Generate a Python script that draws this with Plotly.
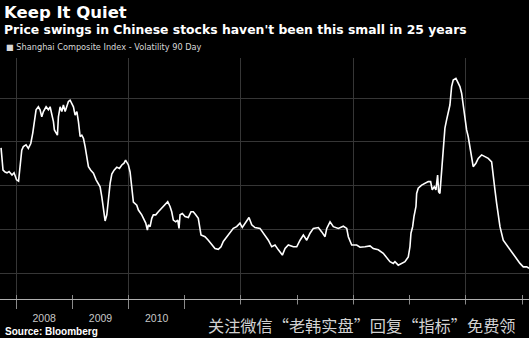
import pandas as pd
import plotly.graph_objects as go

# Shanghai Composite Index, 90-day volatility (annualised, %), sampled as decimal years
t_years = [
    2007.734, 2007.769, 2007.805, 2007.840, 2007.876, 2007.929, 2007.965, 2008.009, 2008.045, 2008.072,
    2008.102, 2008.130, 2008.178, 2008.219, 2008.262, 2008.297, 2008.326, 2008.356, 2008.397, 2008.427,
    2008.457, 2008.486, 2008.534, 2008.575, 2008.605, 2008.635, 2008.664, 2008.681, 2008.712, 2008.735,
    2008.752, 2008.783, 2008.813, 2008.841, 2008.872, 2008.902, 2008.930, 2008.960, 2008.991, 2009.019,
    2009.049, 2009.080, 2009.108, 2009.138, 2009.168, 2009.197, 2009.227, 2009.257, 2009.286, 2009.328,
    2009.375, 2009.423, 2009.464, 2009.494, 2009.524, 2009.552, 2009.583, 2009.613, 2009.641, 2009.672,
    2009.702, 2009.743, 2009.791, 2009.837, 2009.880, 2009.920, 2009.947, 2009.997, 2010.027, 2010.057,
    2010.086, 2010.146, 2010.175, 2010.235, 2010.264, 2010.306, 2010.335, 2010.352, 2010.383, 2010.413,
    2010.441, 2010.484, 2010.530, 2010.591, 2010.649, 2010.697, 2010.738, 2010.768, 2010.797, 2010.839,
    2010.875, 2010.898, 2010.916, 2010.957, 2011.005, 2011.064, 2011.112, 2011.152, 2011.195, 2011.241,
    2011.289, 2011.360, 2011.419, 2011.480, 2011.538, 2011.597, 2011.645, 2011.686, 2011.746, 2011.805,
    2011.864, 2011.924, 2011.983, 2012.024, 2012.072, 2012.143, 2012.191, 2012.249, 2012.338, 2012.427,
    2012.486, 2012.546, 2012.605, 2012.664, 2012.735, 2012.783, 2012.841, 2012.930, 2012.990, 2013.049,
    2013.108, 2013.168, 2013.227, 2013.286, 2013.375, 2013.435, 2013.494, 2013.524, 2013.583, 2013.641,
    2013.730, 2013.819, 2013.880, 2013.908, 2013.968, 2014.057, 2014.116, 2014.205, 2014.294, 2014.352,
    2014.441, 2014.530, 2014.591, 2014.649, 2014.708, 2014.738, 2014.797, 2014.857, 2014.916, 2014.975,
    2015.005, 2015.023, 2015.053, 2015.076, 2015.112, 2015.124, 2015.152, 2015.213, 2015.271, 2015.330,
    2015.373, 2015.401, 2015.437, 2015.467, 2015.497, 2015.515, 2015.538, 2015.568, 2015.597, 2015.627,
    2015.657, 2015.686, 2015.716, 2015.746, 2015.775, 2015.823, 2015.864, 2015.894, 2015.924, 2015.952,
    2015.983, 2016.013, 2016.041, 2016.071, 2016.101, 2016.130, 2016.178, 2016.219, 2016.279, 2016.338,
    2016.397, 2016.457, 2016.486, 2016.516, 2016.546, 2016.574, 2016.605, 2016.663, 2016.724, 2016.783,
    2016.841, 2016.902, 2016.960, 2017.019, 2017.080, 2017.121,
]

vol_90d = [
    38.6, 33.5, 33.1, 32.9, 33.2, 32.4, 32.9, 31.3, 31.0, 34.2,
    38.1, 38.9, 39.3, 38.5, 39.6, 42.0, 45.0, 47.3, 48.0, 47.3,
    45.7, 46.9, 48.0, 47.3, 48.0, 46.5, 44.6, 42.7, 41.9, 41.5,
    45.7, 48.0, 46.9, 48.4, 46.9, 47.9, 49.2, 49.5, 48.8, 48.0,
    46.1, 46.9, 44.6, 41.2, 41.5, 40.8, 38.9, 37.0, 34.3, 33.5,
    32.8, 31.3, 30.5, 29.7, 27.4, 24.8, 21.9, 23.3, 27.4, 30.5,
    32.6, 33.5, 34.2, 33.9, 34.7, 35.1, 35.8, 34.7, 33.1, 29.0,
    26.2, 25.5, 24.4, 23.3, 22.5, 21.4, 19.8, 21.0, 20.6, 22.5,
    23.3, 23.3, 24.0, 24.8, 25.5, 26.3, 25.2, 24.0, 22.1, 21.7,
    22.1, 20.2, 23.3, 23.6, 22.9, 22.7, 24.0, 24.0, 23.3, 22.5,
    18.7, 18.3, 17.5, 16.4, 15.6, 15.4, 16.0, 17.2, 18.3, 19.4,
    20.2, 20.6, 21.4, 20.4, 21.4, 22.7, 21.0, 20.4, 20.2, 18.7,
    17.5, 16.0, 16.4, 15.3, 14.1, 15.6, 16.4, 16.0, 16.0, 17.5,
    18.7, 17.5, 19.1, 20.2, 20.4, 19.4, 18.3, 20.2, 21.7, 20.6,
    20.2, 20.7, 20.2, 18.3, 16.4, 16.4, 15.9, 16.0, 16.2, 15.6,
    15.3, 14.5, 13.4, 12.6, 12.2, 12.6, 11.8, 12.2, 12.6, 13.7,
    16.0, 19.1, 20.6, 22.9, 25.2, 28.2, 29.4, 30.1, 30.5, 30.9,
    30.9, 29.0, 29.7, 29.0, 32.4, 28.6, 28.2, 33.5, 39.6, 43.1,
    45.0, 46.9, 48.4, 52.6, 54.1, 54.5, 53.4, 52.6, 51.1, 48.0,
    45.0, 42.7, 41.2, 38.9, 37.0, 34.3, 35.1, 36.2, 37.0, 36.6,
    36.2, 35.4, 32.8, 29.0, 25.9, 23.6, 20.6, 17.5, 16.4, 15.3,
    14.1, 13.0, 12.2, 11.4, 11.4, 11.1,
]

series_name = "Shanghai Composite Index - Volatility 90 Day"
title = "Keep It Quiet"
subtitle = "Price swings in Chinese stocks haven't been this small in 25 years"
source = "Source: Bloomberg"
promo = "关注微信“老韩实盘”回复“指标”免费领"

view_start, view_end = "2007-09-19", "2017-02-14"
y_view = [4.06, 59.15]


def to_timestamp(y):
    yr = int(y)
    start = pd.Timestamp(yr, 1, 1)
    end = pd.Timestamp(yr + 1, 1, 1)
    return start + (end - start) * (y - yr)


dates = [to_timestamp(y) for y in t_years]

W, H = 529, 338
M_L, M_R, M_T, M_B = 0, 0, 58, 39
plot_h = H - M_T - M_B


def px_x(px):
    return px / (W - M_L - M_R)


def px_y(py):
    return (H - M_B - py) / plot_h


fig = go.Figure()
fig.add_trace(go.Scatter(
    x=dates, y=vol_90d, mode="lines", name=series_name,
    line=dict(color="#ffffff", width=1.6), showlegend=False,
))
# companion axis carrying the two-year vertical grid and the inner tick stubs
fig.add_trace(go.Scatter(x=[], y=[], xaxis="x2", showlegend=False))

grid = "#363636"
fig.update_layout(
    width=W, height=H, autosize=False,
    margin=dict(l=M_L, r=M_R, t=M_T, b=M_B),
    paper_bgcolor="#000000", plot_bgcolor="#000000",
    xaxis=dict(
        type="date", range=[view_start, view_end],
        dtick="M12", tick0="2008-01-01", ticklabelmode="period",
        ticks="outside", ticklen=9, tickcolor="#8a8a8a", tickwidth=1,
        showgrid=False, zeroline=False,
        showline=True, linecolor="#b0b0b0", linewidth=1,
        tickfont=dict(family="Liberation Sans", size=10.5, color="#c8c8c8"),
        tickformat="%Y",
    ),
    xaxis2=dict(
        type="date", range=[view_start, view_end], overlaying="x", anchor="y", side="bottom",
        dtick="M24", tick0="2008-01-01",
        showgrid=True, gridcolor=grid, gridwidth=1,
        showticklabels=False, ticks="inside", ticklen=4, tickcolor="#8a8a8a",
        minor=dict(dtick="M12", ticks="inside", ticklen=4, tickcolor="#8a8a8a", showgrid=False),
        zeroline=False, showline=False,
    ),
    yaxis=dict(
        range=y_view, dtick=10, tick0=0,
        showgrid=True, gridcolor=grid, gridwidth=1,
        showticklabels=False, ticks="", zeroline=False, showline=False,
    ),
    showlegend=False,
)

annotations = [
    dict(text=f"<b>{title}</b>", x=px_x(2), y=px_y(12), xanchor="left", yanchor="middle",
         font=dict(family="DejaVu Sans", size=16.5, color="#ffffff")),
    dict(text=f"<b>{subtitle}</b>", x=px_x(2), y=px_y(29.5), xanchor="left", yanchor="middle",
         font=dict(family="DejaVu Sans", size=12.4, color="#ffffff")),
    dict(text=f"■ {series_name}", x=px_x(4), y=px_y(47.5), xanchor="left", yanchor="middle",
         font=dict(family="DejaVu Sans", size=8.2, color="#d8d8d8")),
    dict(text=f"<b>{source}</b>", x=px_x(3), y=px_y(331), xanchor="left", yanchor="middle",
         font=dict(family="Liberation Sans", size=10, color="#ffffff"),
         bgcolor="#000000", borderpad=1),
    # promo banner on a solid black backing, laid over the later year labels
    dict(text=promo, x=px_x(362), y=px_y(325), xanchor="center", yanchor="middle",
         font=dict(family="Noto Sans CJK SC", size=16.2, color="#d2d2d2"),
         bgcolor="#000000", borderpad=8),
]
for a in annotations:
    a.update(xref="paper", yref="paper", showarrow=False)
fig.update_layout(annotations=annotations)

fig.write_html("out.html")
